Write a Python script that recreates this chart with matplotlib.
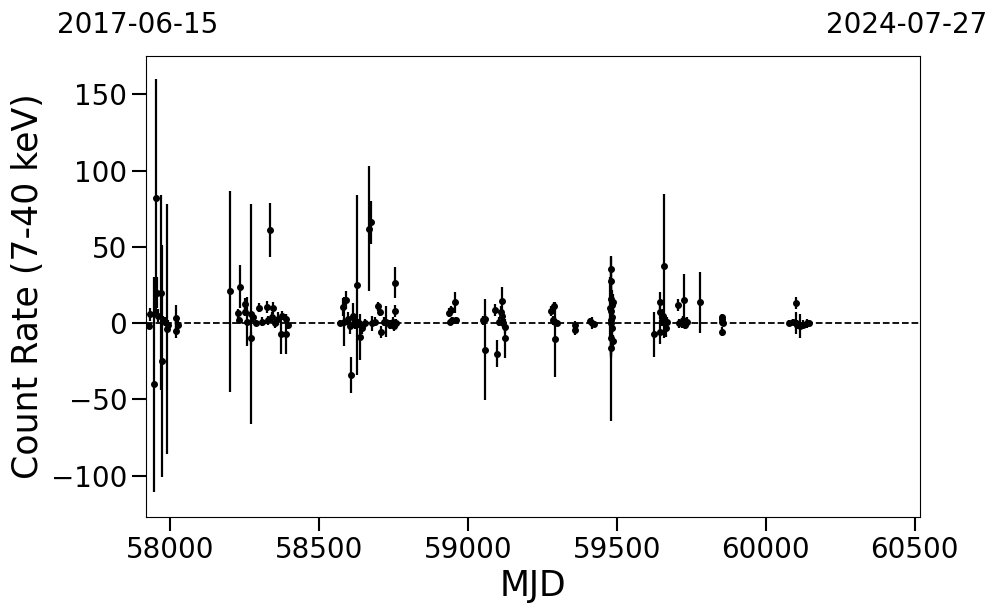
import numpy as np
import matplotlib
matplotlib.use("Agg")
import matplotlib.pyplot as plt

# light curve points: MJD, count rate (7-40 keV), 1-sigma error
mjd = [57931, 57928, 57946, 57952, 57956, 57960, 57970, 57972, 57977, 57989,
       57983, 57993, 58020, 58020, 58027,
       58201, 58235, 58229, 58231, 58251, 58252, 58258, 58271, 58272, 58278,
       58288, 58298, 58308, 58324, 58328, 58335, 58342, 58345, 58352, 58362,
       58374, 58388, 58375, 58389, 58395,
       58570, 58580, 58583, 58590, 58596, 58603, 58609, 58613, 58620, 58629,
       58634, 58637, 58643, 58653, 58668, 58673, 58677, 58687, 58698, 58704,
       58709, 58717, 58726, 58737, 58747, 58754, 58755, 58757, 58751,
       58938, 58939, 58944, 58945, 58958, 58961,
       59056, 59049, 59057, 59092, 59097, 59113, 59112, 59116, 59106, 59123,
       59125, 59119,
       59279, 59290, 59284, 59291, 59293, 59300,
       59360, 59361, 59418, 59411, 59424,
       59481, 59482, 59481, 59485, 59479, 59483, 59481, 59485, 59482, 59482,
       59486, 59480, 59478, 59488,
       59625, 59645, 59646, 59645, 59659, 59652, 59656, 59662, 59668, 59665,
       59707, 59709, 59719, 59727, 59722, 59729, 59736,
       59780,
       59854, 59854, 59855, 59854, 59852,
       60078, 60091, 60100, 60101, 60105, 60115, 60125, 60139, 60145]
rate = [5.7, -1.8, -40, 82, 20, 5, 20, -25, 2, -4,
        1, -1, 3.7, -5, -1.3,
        20.8, 24, 6.4, 2, 12.5, 7.4, 1, 6, -10, 4,
        0, 10, 1, 10.7, 2, 61, 4, 10, 0, 3,
        -7, -7, 5, 3, -1,
        0, 10.7, 1, 15, 3, -2, -34, 5, 1, 25,
        0, -9, -3, 0, 62, 66, 0, 1, 11, 7.4,
        -5.7, 1, 1, -1, 1, 26.5, 7.8, 0, -2,
        6.8, 0.9, 8.5, 2, 13.6, 2,
        -17.5, 2, 3, 8.5, -20, 14.4, 7.4, 5, 1, -2.4,
        -10, 0,
        8, 11, 2, -10.5, 1, 0,
        -1.3, -4.6, 0.2, 1.5, -0.5,
        35.4, 27.8, 16, 12, 8, 4, 0, -3, -10, -16.6,
        -12, 2, 10, 14,
        -7.4, 14, 7.4, -5.7, 37.4, 2, 5, 0, 1, -3,
        11.8, 0, 0, 15, 2, -1, 1,
        13.6,
        4, 1, 0, -5.7, 2.5,
        0.2, 1, 13.3, 0, -1, -2, -1, 0, 0]
err = [4, 2, 70.5, 78, 10, 4, 64, 76, 3, 82,
       3, 3, 8, 5, 3,
       66, 14, 3, 2, 4, 3, 16, 72, 4, 3,
       2, 3, 3, 4, 3, 17.5, 3, 4, 3, 4,
       13, 13, 3, 3, 3,
       2, 6, 16, 6, 4, 5, 12, 8, 5, 59,
       3, 15, 4, 3, 41, 14, 5, 3, 3, 3,
       4, 3, 10, 3, 3, 10, 4, 3, 3,
       3, 2, 3, 2, 7, 2,
       33, 3, 3, 4, 9, 9, 4, 3, 3, 4,
       13, 3,
       3, 3, 3, 24.5, 3, 2,
       3, 3, 4, 2, 2,
       8, 8, 10, 10, 12, 14, 20, 10, 54, 5,
       4, 25, 20, 5,
       14.5, 6.5, 5, 8, 47, 4, 4, 3, 3, 6,
       4, 3, 3, 17.5, 3, 3, 3,
       20,
       2, 2, 2, 3, 2,
       2, 2, 4, 7, 3, 8, 3, 3, 2]

t_start, t_end = 57919, 60518
date_start, date_end = "2017-06-15", "2024-07-27"

fig = plt.figure(figsize=(9.97, 6.13), dpi=100)
ax = fig.add_axes([0.1464, 0.1566, 0.7764, 0.752])

ax.errorbar(mjd, rate, yerr=err, fmt='o', color='black', ms=4.0,
            elinewidth=1.6, capsize=0, zorder=3)
ax.axhline(0, color='black', ls='--', lw=1.3, zorder=2)

ax.set_xlim(t_start, t_end)
ax.set_ylim(-127, 175)
ax.set_xticks([58000, 58500, 59000, 59500, 60000, 60500])
ax.set_yticks([-100, -50, 0, 50, 100, 150])
ax.tick_params(axis='both', labelsize=20, length=10, width=1.5)
ax.set_xlabel("MJD", fontsize=25)
ax.set_ylabel("Count Rate (7-40 keV)", fontsize=25)

fig.text(57/997, 1 - 33/613, date_start, fontsize=20, ha='left', va='baseline')
fig.text(987/997, 1 - 33/613, date_end, fontsize=20, ha='right', va='baseline')

fig.savefig("out.png", dpi=100)
